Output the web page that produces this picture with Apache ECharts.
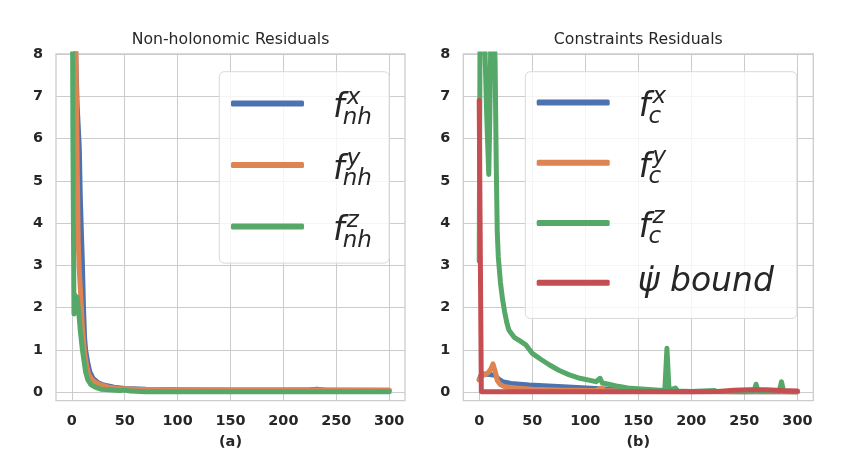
<!DOCTYPE html>
<html>
<head>
<meta charset="utf-8">
<script src="https://cdn.jsdelivr.net/npm/echarts@6/dist/echarts.min.js"></script>
<style>
  html, body { margin: 0; padding: 0; background: #fff; }
  #chart { width: 858px; height: 450px; }
</style>
</head>
<body>
<div id="chart"></div>
<script>
// tick positions
var xTicks = [0, 50, 100, 150, 200, 250, 300];
var yTicks = [0, 1, 2, 3, 4, 5, 6, 7, 8];

// (a) non-holonomic residuals, [epoch, value]
var nhX = [[0, 11], [3, 8.5], [5, 6.8], [7, 5.8], [8, 4.6], [10, 3.0], [11, 2.0], [12, 1.3],
  [13, 1.0], [15, 0.7], [17, 0.48], [20, 0.33], [25, 0.22], [30, 0.17], [40, 0.12], [50, 0.09],
  [70, 0.07], [100, 0.06], [150, 0.05], [200, 0.05], [225, 0.06], [232, 0.07], [240, 0.05], [300, 0.05]];
var nhY = [[0, 14], [3, 10], [5, 5.5], [6, 3.6], [7, 2.9], [9, 2.0], [10, 1.5], [12, 0.95],
  [14, 0.62], [16, 0.42], [19, 0.3], [22, 0.24], [27, 0.18], [35, 0.12], [45, 0.09], [60, 0.07],
  [100, 0.06], [200, 0.06], [300, 0.05]];
var nhZ = [[0, 14], [1, 6], [2, 1.85], [3, 2.3], [4, 1.95], [5, 2.25], [7, 1.75], [8, 1.45],
  [10, 1.0], [12, 0.65], [13, 0.48], [15, 0.3], [18, 0.18], [22, 0.12], [28, 0.07], [35, 0.06],
  [45, 0.04], [50, 0.05], [55, 0.03], [70, 0.01], [100, 0.01], [200, 0.01], [300, 0.01]];

// (b) constraint residuals
var cX = [[0, 0.3], [2, 0.42], [5, 0.43], [10, 0.42], [15, 0.4], [18, 0.32], [22, 0.25], [30, 0.21],
  [47, 0.17], [79, 0.13], [110, 0.09], [130, 0.06], [150, 0.03], [180, 0.02], [300, 0.01]];
var cY = [[0, 0.29], [2, 0.38], [5, 0.42], [8, 0.45], [11, 0.55], [13, 0.67], [15, 0.5], [17, 0.28],
  [20, 0.18], [24, 0.13], [35, 0.1], [50, 0.07], [80, 0.05], [110, 0.04], [115, 0.1], [118, 0.04],
  [150, 0.02], [300, 0.01]];
var cZ = [[0, 3.1], [1, 10], [3, 9.5], [5, 8.5], [7, 6.6], [9, 5.15], [10, 6.5], [11, 8.5], [13, 9.5],
  [15, 7.8], [16, 5.5], [17, 3.8], [18, 3.2], [20, 2.6], [22, 2.2], [24, 1.9], [26, 1.65], [28, 1.47],
  [30, 1.4], [33, 1.3], [38, 1.22], [44, 1.12], [50, 0.92], [58, 0.78], [66, 0.65], [75, 0.52],
  [85, 0.41], [95, 0.33], [110, 0.25], [114, 0.33], [116, 0.22], [122, 0.19], [131, 0.14], [140, 0.1],
  [156, 0.07], [170, 0.05], [175, 0.05], [177, 1.04], [179, 0.05], [185, 0.1], [187, 0.03], [200, 0.02],
  [222, 0.04], [224, 0.02], [250, 0.01], [259, 0.02], [261, 0.19], [263, 0.02], [283, 0.02], [285, 0.25],
  [287, 0.02], [300, 0.01]];
var psiBound = [[0, 6.9], [2, 0.01], [50, 0.01], [100, 0.01], [200, 0.01], [225, 0.02], [240, 0.05],
  [255, 0.06], [270, 0.06], [285, 0.04], [300, 0.03]];

var colors = ['#4c72b0', '#dd8452', '#55a868', '#c44e52'];
var ink = '#262626';
var font = 'DejaVu Sans';

var labels = {
  nhX: '{f|f}{sup|x}{sub|nh}',
  nhY: '{f|f}{sup|y}{sub|nh}',
  nhZ: '{f|f}{sup|z}{sub|nh}',
  cX: '{f|f}{sup|x}{sub|c}',
  cY: '{f|f}{sup|y}{sub|c}',
  cZ: '{f|f}{sup|z}{sub|c}',
  psi: '{b|\u03C8\u0307 bound}'
};

var rich = {
  f: { fontSize: 33, fontStyle: 'italic', fontFamily: font, color: ink, lineHeight: 44,
       padding: [0, 0, 0, 24], width: 5.7, verticalAlign: 'bottom', height: 33 },
  sup: { fontSize: 23, fontStyle: 'italic', fontFamily: font, color: ink, width: -4,
         padding: [0, 0, 0, 8], verticalAlign: 'top', height: 33 },
  sub: { fontSize: 23, fontStyle: 'italic', fontFamily: font, color: ink,
         verticalAlign: 'bottom', height: 15 },
  b: { fontSize: 33, fontStyle: 'italic', fontFamily: font, color: ink, lineHeight: 44,
       padding: [0, 0, 0, 23] }
};

function xAxisFor(idx, name) {
  return {
    type: 'value', gridIndex: idx, min: -15, max: 315,
    name: name, nameLocation: 'middle', nameGap: 34,
    nameTextStyle: { fontSize: 14.5, fontWeight: 'bold', color: ink, fontFamily: font },
    axisLine: { show: false },
    axisTick: { show: false, customValues: xTicks },
    axisLabel: { customValues: xTicks, margin: 13.5, fontSize: 14.4, fontWeight: 'bold', color: ink, fontFamily: font },
    splitLine: { show: true, lineStyle: { color: '#cccccc', width: 1 } }
  };
}
function yAxisFor(idx) {
  return {
    type: 'value', gridIndex: idx, min: -0.2, max: 8,
    axisLine: { show: false },
    axisTick: { show: false, customValues: yTicks },
    axisLabel: { customValues: yTicks, margin: 13, fontSize: 14.4, fontWeight: 'bold', color: ink, fontFamily: font },
    splitLine: { show: true, lineStyle: { color: '#cccccc', width: 1 } }
  };
}
function lineSeries(name, idx, data, color) {
  return {
    name: name, type: 'line', xAxisIndex: idx, yAxisIndex: idx, data: data,
    showSymbol: false, symbol: 'none', smooth: false, clip: true,
    lineStyle: { color: color, width: 5, cap: 'round', join: 'round' },
    itemStyle: { color: color }
  };
}
function legendFor(names, left, padding, gap) {
  return {
    orient: 'vertical', left: left, top: 71.7, padding: padding, itemGap: gap,
    itemWidth: 73, itemHeight: 6, icon: 'roundRect', selectedMode: false,
    backgroundColor: 'rgba(255,255,255,0.8)', borderColor: '#d9d9d9', borderWidth: 1, borderRadius: 5,
    data: names,
    formatter: function (n) { return labels[n]; },
    textStyle: { rich: rich }
  };
}

var chart = echarts.init(document.getElementById('chart'));
chart.setOption({
  animation: false,
  backgroundColor: '#ffffff',
  title: [
    { text: 'Non-holonomic Residuals', left: 230.5, top: 32, textAlign: 'center', padding: 0,
      textStyle: { fontSize: 15.7, fontWeight: 'normal', color: ink, fontFamily: font } },
    { text: 'Constraints Residuals', left: 638.3, top: 32, textAlign: 'center', padding: 0,
      textStyle: { fontSize: 15.7, fontWeight: 'normal', color: ink, fontFamily: font } }
  ],
  grid: [
    { left: 56, top: 54, width: 349, height: 346.7, show: true, borderColor: '#cccccc', borderWidth: 1.3,
      outerBoundsMode: 'none', containLabel: false },
    { left: 463.3, top: 54, width: 350, height: 346.7, show: true, borderColor: '#cccccc', borderWidth: 1.3,
      outerBoundsMode: 'none', containLabel: false }
  ],
  xAxis: [xAxisFor(0, '(a)'), xAxisFor(1, '(b)')],
  yAxis: [yAxisFor(0), yAxisFor(1)],
  legend: [
    legendFor(['nhX', 'nhY', 'nhZ'], 219.3, [14.7, 17.3, 10.7, 11.7], 18.5),
    legendFor(['cX', 'cY', 'cZ', 'psi'], 525.3, [13.7, 23, 19.1, 11.4], 17.3)
  ],
  series: [
    lineSeries('nhX', 0, nhX, colors[0]),
    lineSeries('nhY', 0, nhY, colors[1]),
    lineSeries('nhZ', 0, nhZ, colors[2]),
    lineSeries('cX', 1, cX, colors[0]),
    lineSeries('cY', 1, cY, colors[1]),
    lineSeries('cZ', 1, cZ, colors[2]),
    lineSeries('psi', 1, psiBound, colors[3])
  ]
});
</script>
</body>
</html>
